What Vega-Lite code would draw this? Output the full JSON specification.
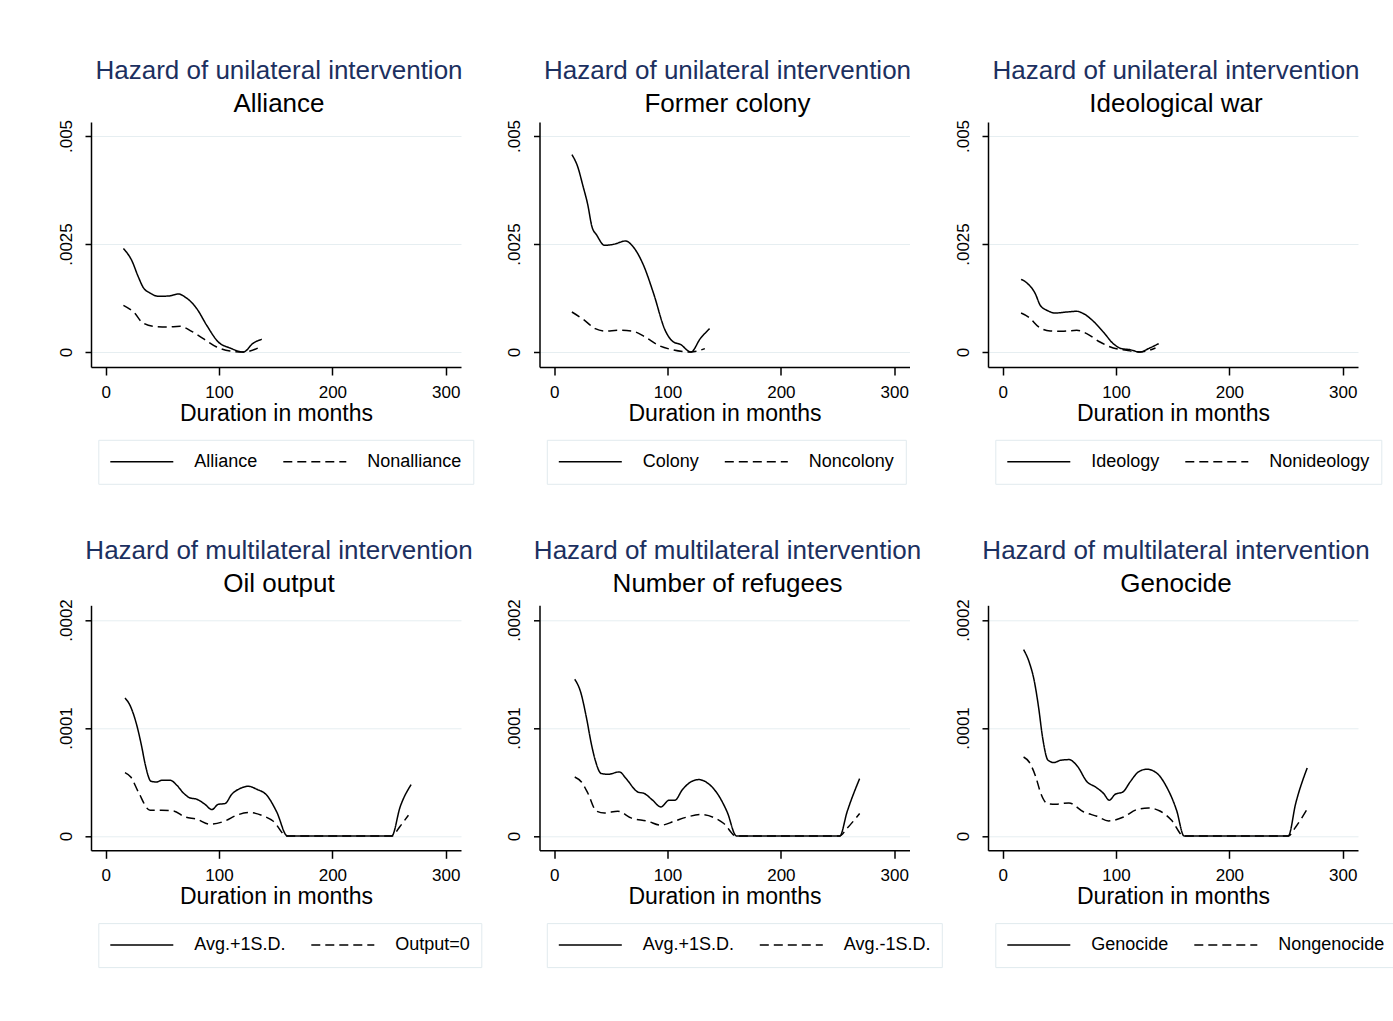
{
  "$schema": "https://vega.github.io/schema/vega-lite/v6.json",
  "background": "white",
  "padding": {"left": 57, "top": 58, "right": 5, "bottom": 5},
  "bounds": "flush",
  "columns": 3,
  "spacing": {"row": 238.3, "column": 78.5},
  "datasets": {
    "alliance": [
      {"group": "Alliance", "months": 15.6, "hazard": 0.002394},
      {"group": "Alliance", "months": 22.9, "hazard": 0.002123},
      {"group": "Alliance", "months": 28.8, "hazard": 0.001736},
      {"group": "Alliance", "months": 33.2, "hazard": 0.00149},
      {"group": "Alliance", "months": 39.1, "hazard": 0.001366},
      {"group": "Alliance", "months": 46.4, "hazard": 0.00129},
      {"group": "Alliance", "months": 55.3, "hazard": 0.001296},
      {"group": "Alliance", "months": 64.1, "hazard": 0.001343},
      {"group": "Alliance", "months": 70, "hazard": 0.001273},
      {"group": "Alliance", "months": 80.3, "hazard": 0.001005},
      {"group": "Alliance", "months": 89.1, "hazard": 0.000618},
      {"group": "Alliance", "months": 99.4, "hazard": 0.000231},
      {"group": "Alliance", "months": 109.7, "hazard": 0.0000926},
      {"group": "Alliance", "months": 121.4, "hazard": 0},
      {"group": "Alliance", "months": 130.3, "hazard": 0.000208},
      {"group": "Alliance", "months": 137.7, "hazard": 0.000294},
      {"group": "Nonalliance", "months": 15.6, "hazard": 0.001081},
      {"group": "Nonalliance", "months": 25.9, "hazard": 0.000889},
      {"group": "Nonalliance", "months": 31.8, "hazard": 0.000694},
      {"group": "Nonalliance", "months": 42, "hazard": 0.000595},
      {"group": "Nonalliance", "months": 53.8, "hazard": 0.000579},
      {"group": "Nonalliance", "months": 65.6, "hazard": 0.000595},
      {"group": "Nonalliance", "months": 75.9, "hazard": 0.000479},
      {"group": "Nonalliance", "months": 86.1, "hazard": 0.00031},
      {"group": "Nonalliance", "months": 97.9, "hazard": 0.000116},
      {"group": "Nonalliance", "months": 109.7, "hazard": 0.0000231},
      {"group": "Nonalliance", "months": 121.4, "hazard": 0},
      {"group": "Nonalliance", "months": 137.7, "hazard": 0.000132}
    ],
    "colony": [
      {"group": "Colony", "months": 15.6, "hazard": 0.004569},
      {"group": "Colony", "months": 20.8, "hazard": 0.004282},
      {"group": "Colony", "months": 25.2, "hazard": 0.003859},
      {"group": "Colony", "months": 29.7, "hazard": 0.003396},
      {"group": "Colony", "months": 33.2, "hazard": 0.00291},
      {"group": "Colony", "months": 37.6, "hazard": 0.002701},
      {"group": "Colony", "months": 44.4, "hazard": 0.00247},
      {"group": "Colony", "months": 52.4, "hazard": 0.002493},
      {"group": "Colony", "months": 63.2, "hazard": 0.00257},
      {"group": "Colony", "months": 68.5, "hazard": 0.00247},
      {"group": "Colony", "months": 78.8, "hazard": 0.002007},
      {"group": "Colony", "months": 87.7, "hazard": 0.001352},
      {"group": "Colony", "months": 97.9, "hazard": 0.000502},
      {"group": "Colony", "months": 105.3, "hazard": 0.000231},
      {"group": "Colony", "months": 111.2, "hazard": 0.000178},
      {"group": "Colony", "months": 120.6, "hazard": 0},
      {"group": "Colony", "months": 128.9, "hazard": 0.00031},
      {"group": "Colony", "months": 137.1, "hazard": 0.000541},
      {"group": "Noncolony", "months": 15.6, "hazard": 0.000926},
      {"group": "Noncolony", "months": 25.9, "hazard": 0.00075},
      {"group": "Noncolony", "months": 36.2, "hazard": 0.000541},
      {"group": "Noncolony", "months": 45, "hazard": 0.000486},
      {"group": "Noncolony", "months": 56.8, "hazard": 0.000502},
      {"group": "Noncolony", "months": 68.5, "hazard": 0.000486},
      {"group": "Noncolony", "months": 80.3, "hazard": 0.000347},
      {"group": "Noncolony", "months": 91.9, "hazard": 0.000155},
      {"group": "Noncolony", "months": 103.8, "hazard": 0.0000556},
      {"group": "Noncolony", "months": 120.6, "hazard": 0},
      {"group": "Noncolony", "months": 132.9, "hazard": 0.0000787}
    ],
    "ideology": [
      {"group": "Ideology", "months": 16.2, "hazard": 0.001683},
      {"group": "Ideology", "months": 22, "hazard": 0.001583},
      {"group": "Ideology", "months": 28.7, "hazard": 0.001352},
      {"group": "Ideology", "months": 33.1, "hazard": 0.001081},
      {"group": "Ideology", "months": 39, "hazard": 0.000965},
      {"group": "Ideology", "months": 46.3, "hazard": 0.000903},
      {"group": "Ideology", "months": 56.5, "hazard": 0.000926},
      {"group": "Ideology", "months": 65.3, "hazard": 0.000942},
      {"group": "Ideology", "months": 71.2, "hazard": 0.000889},
      {"group": "Ideology", "months": 80, "hazard": 0.000711},
      {"group": "Ideology", "months": 88.8, "hazard": 0.000463},
      {"group": "Ideology", "months": 97.5, "hazard": 0.000194},
      {"group": "Ideology", "months": 104.8, "hazard": 0.0000787},
      {"group": "Ideology", "months": 112.1, "hazard": 0.0000556},
      {"group": "Ideology", "months": 120.9, "hazard": 0},
      {"group": "Ideology", "months": 129.7, "hazard": 0.0000926},
      {"group": "Ideology", "months": 137.6, "hazard": 0.000194},
      {"group": "Nonideology", "months": 16.2, "hazard": 0.000903},
      {"group": "Nonideology", "months": 22.8, "hazard": 0.00081},
      {"group": "Nonideology", "months": 32.5, "hazard": 0.000565},
      {"group": "Nonideology", "months": 41.9, "hazard": 0.000486},
      {"group": "Nonideology", "months": 52.1, "hazard": 0.000479},
      {"group": "Nonideology", "months": 65.3, "hazard": 0.000502},
      {"group": "Nonideology", "months": 74.1, "hazard": 0.000426},
      {"group": "Nonideology", "months": 85.8, "hazard": 0.000231},
      {"group": "Nonideology", "months": 97.5, "hazard": 0.0000926},
      {"group": "Nonideology", "months": 109.2, "hazard": 0.0000394},
      {"group": "Nonideology", "months": 120.9, "hazard": 0},
      {"group": "Nonideology", "months": 134.8, "hazard": 0.0000926}
    ],
    "oil": [
      {"group": "Avg.+1S.D.", "months": 17, "hazard": 0.0001278},
      {"group": "Avg.+1S.D.", "months": 21.4, "hazard": 0.000121},
      {"group": "Avg.+1S.D.", "months": 27.4, "hazard": 0.0001025},
      {"group": "Avg.+1S.D.", "months": 31.8, "hazard": 0.0000824},
      {"group": "Avg.+1S.D.", "months": 34.7, "hazard": 0.000067},
      {"group": "Avg.+1S.D.", "months": 40, "hazard": 0.0000506},
      {"group": "Avg.+1S.D.", "months": 45, "hazard": 0.00005},
      {"group": "Avg.+1S.D.", "months": 49.4, "hazard": 0.0000516},
      {"group": "Avg.+1S.D.", "months": 56.8, "hazard": 0.0000516},
      {"group": "Avg.+1S.D.", "months": 62.7, "hazard": 0.000047},
      {"group": "Avg.+1S.D.", "months": 68.5, "hazard": 0.0000398},
      {"group": "Avg.+1S.D.", "months": 74.4, "hazard": 0.0000352},
      {"group": "Avg.+1S.D.", "months": 80.3, "hazard": 0.000034},
      {"group": "Avg.+1S.D.", "months": 87.6, "hazard": 0.0000293},
      {"group": "Avg.+1S.D.", "months": 93.6, "hazard": 0.0000244},
      {"group": "Avg.+1S.D.", "months": 99.4, "hazard": 0.0000293},
      {"group": "Avg.+1S.D.", "months": 105.3, "hazard": 0.00003},
      {"group": "Avg.+1S.D.", "months": 111.2, "hazard": 0.0000386},
      {"group": "Avg.+1S.D.", "months": 118.5, "hazard": 0.0000439},
      {"group": "Avg.+1S.D.", "months": 125.9, "hazard": 0.000046},
      {"group": "Avg.+1S.D.", "months": 133.3, "hazard": 0.0000432},
      {"group": "Avg.+1S.D.", "months": 142.1, "hazard": 0.0000377},
      {"group": "Avg.+1S.D.", "months": 150.9, "hazard": 0.0000222},
      {"group": "Avg.+1S.D.", "months": 160.3, "hazard": 0},
      {"group": "Avg.+1S.D.", "months": 252.4, "hazard": 0},
      {"group": "Avg.+1S.D.", "months": 259.8, "hazard": 0.0000269},
      {"group": "Avg.+1S.D.", "months": 269.5, "hazard": 0.0000476},
      {"group": "Output=0", "months": 17, "hazard": 0.0000587},
      {"group": "Output=0", "months": 22.1, "hazard": 0.0000546},
      {"group": "Output=0", "months": 28.8, "hazard": 0.0000407},
      {"group": "Output=0", "months": 39.1, "hazard": 0.0000238},
      {"group": "Output=0", "months": 49.4, "hazard": 0.0000238},
      {"group": "Output=0", "months": 59.7, "hazard": 0.0000231},
      {"group": "Output=0", "months": 70, "hazard": 0.0000176},
      {"group": "Output=0", "months": 80.3, "hazard": 0.0000155},
      {"group": "Output=0", "months": 92.1, "hazard": 0.0000108},
      {"group": "Output=0", "months": 105.3, "hazard": 0.0000139},
      {"group": "Output=0", "months": 115.6, "hazard": 0.0000192},
      {"group": "Output=0", "months": 127.4, "hazard": 0.0000217},
      {"group": "Output=0", "months": 139.1, "hazard": 0.0000185},
      {"group": "Output=0", "months": 147.9, "hazard": 0.0000136},
      {"group": "Output=0", "months": 159.7, "hazard": 0},
      {"group": "Output=0", "months": 252.4, "hazard": 0},
      {"group": "Output=0", "months": 259.8, "hazard": 0.000009},
      {"group": "Output=0", "months": 267.1, "hazard": 0.0000192}
    ],
    "refugees": [
      {"group": "Avg.+1S.D.", "months": 18.1, "hazard": 0.0001451},
      {"group": "Avg.+1S.D.", "months": 23.3, "hazard": 0.0001333},
      {"group": "Avg.+1S.D.", "months": 28.3, "hazard": 0.0001102},
      {"group": "Avg.+1S.D.", "months": 32.7, "hazard": 0.0000855},
      {"group": "Avg.+1S.D.", "months": 36.2, "hazard": 0.0000701},
      {"group": "Avg.+1S.D.", "months": 41.5, "hazard": 0.0000578},
      {"group": "Avg.+1S.D.", "months": 47.4, "hazard": 0.0000571},
      {"group": "Avg.+1S.D.", "months": 57.5, "hazard": 0.0000593},
      {"group": "Avg.+1S.D.", "months": 63.4, "hazard": 0.0000531},
      {"group": "Avg.+1S.D.", "months": 73.7, "hazard": 0.0000407},
      {"group": "Avg.+1S.D.", "months": 79.5, "hazard": 0.0000393},
      {"group": "Avg.+1S.D.", "months": 86.8, "hazard": 0.0000331},
      {"group": "Avg.+1S.D.", "months": 94.1, "hazard": 0.0000269},
      {"group": "Avg.+1S.D.", "months": 101.4, "hazard": 0.0000331},
      {"group": "Avg.+1S.D.", "months": 106.4, "hazard": 0.0000331},
      {"group": "Avg.+1S.D.", "months": 113.2, "hazard": 0.000043},
      {"group": "Avg.+1S.D.", "months": 120.5, "hazard": 0.00005},
      {"group": "Avg.+1S.D.", "months": 127.7, "hazard": 0.0000522},
      {"group": "Avg.+1S.D.", "months": 135.1, "hazard": 0.0000491},
      {"group": "Avg.+1S.D.", "months": 143.9, "hazard": 0.0000393},
      {"group": "Avg.+1S.D.", "months": 152.6, "hazard": 0.0000222},
      {"group": "Avg.+1S.D.", "months": 160.8, "hazard": 0},
      {"group": "Avg.+1S.D.", "months": 252, "hazard": 0},
      {"group": "Avg.+1S.D.", "months": 258.4, "hazard": 0.0000222},
      {"group": "Avg.+1S.D.", "months": 269.5, "hazard": 0.0000531},
      {"group": "Avg.-1S.D.", "months": 18.1, "hazard": 0.0000546},
      {"group": "Avg.-1S.D.", "months": 24, "hazard": 0.00005},
      {"group": "Avg.-1S.D.", "months": 29.8, "hazard": 0.0000393},
      {"group": "Avg.-1S.D.", "months": 37.1, "hazard": 0.0000231},
      {"group": "Avg.-1S.D.", "months": 44.4, "hazard": 0.0000213},
      {"group": "Avg.-1S.D.", "months": 56.1, "hazard": 0.0000229},
      {"group": "Avg.-1S.D.", "months": 67.8, "hazard": 0.0000167},
      {"group": "Avg.-1S.D.", "months": 82.5, "hazard": 0.0000136},
      {"group": "Avg.-1S.D.", "months": 94.1, "hazard": 0.0000099},
      {"group": "Avg.-1S.D.", "months": 105.8, "hazard": 0.0000136},
      {"group": "Avg.-1S.D.", "months": 117.5, "hazard": 0.0000176},
      {"group": "Avg.-1S.D.", "months": 129.2, "hazard": 0.0000198},
      {"group": "Avg.-1S.D.", "months": 140.9, "hazard": 0.000017},
      {"group": "Avg.-1S.D.", "months": 149.7, "hazard": 0.0000115},
      {"group": "Avg.-1S.D.", "months": 160.5, "hazard": 0},
      {"group": "Avg.-1S.D.", "months": 252, "hazard": 0},
      {"group": "Avg.-1S.D.", "months": 257.7, "hazard": 0.0000062},
      {"group": "Avg.-1S.D.", "months": 269.5, "hazard": 0.0000207}
    ],
    "genocide": [
      {"group": "Genocide", "months": 18.4, "hazard": 0.0001726},
      {"group": "Genocide", "months": 23.3, "hazard": 0.0001611},
      {"group": "Genocide", "months": 27.7, "hazard": 0.0001442},
      {"group": "Genocide", "months": 31.6, "hazard": 0.0001194},
      {"group": "Genocide", "months": 35.1, "hazard": 0.0000917},
      {"group": "Genocide", "months": 40, "hazard": 0.0000701},
      {"group": "Genocide", "months": 45.2, "hazard": 0.000068},
      {"group": "Genocide", "months": 51.1, "hazard": 0.0000701},
      {"group": "Genocide", "months": 58.4, "hazard": 0.0000707},
      {"group": "Genocide", "months": 65.7, "hazard": 0.0000648},
      {"group": "Genocide", "months": 74.5, "hazard": 0.00005},
      {"group": "Genocide", "months": 81.8, "hazard": 0.0000454},
      {"group": "Genocide", "months": 89, "hazard": 0.0000393},
      {"group": "Genocide", "months": 94, "hazard": 0.0000331},
      {"group": "Genocide", "months": 99.3, "hazard": 0.0000386},
      {"group": "Genocide", "months": 106, "hazard": 0.0000407},
      {"group": "Genocide", "months": 112.4, "hazard": 0.00005},
      {"group": "Genocide", "months": 119.7, "hazard": 0.0000593},
      {"group": "Genocide", "months": 127.1, "hazard": 0.0000618},
      {"group": "Genocide", "months": 135.8, "hazard": 0.0000583},
      {"group": "Genocide", "months": 144.6, "hazard": 0.0000454},
      {"group": "Genocide", "months": 153.4, "hazard": 0.0000238},
      {"group": "Genocide", "months": 160, "hazard": 0},
      {"group": "Genocide", "months": 252, "hazard": 0},
      {"group": "Genocide", "months": 258.5, "hazard": 0.00003},
      {"group": "Genocide", "months": 268.7, "hazard": 0.000063},
      {"group": "Nongenocide", "months": 18.4, "hazard": 0.0000731},
      {"group": "Nongenocide", "months": 23.3, "hazard": 0.0000685},
      {"group": "Nongenocide", "months": 29.2, "hazard": 0.0000546},
      {"group": "Nongenocide", "months": 33.6, "hazard": 0.0000393},
      {"group": "Nongenocide", "months": 39.4, "hazard": 0.00003},
      {"group": "Nongenocide", "months": 46.7, "hazard": 0.0000293},
      {"group": "Nongenocide", "months": 58.4, "hazard": 0.0000306},
      {"group": "Nongenocide", "months": 71.5, "hazard": 0.0000222},
      {"group": "Nongenocide", "months": 83.2, "hazard": 0.0000182},
      {"group": "Nongenocide", "months": 93.4, "hazard": 0.0000139},
      {"group": "Nongenocide", "months": 106.6, "hazard": 0.0000176},
      {"group": "Nongenocide", "months": 118.3, "hazard": 0.0000244},
      {"group": "Nongenocide", "months": 128.5, "hazard": 0.0000259},
      {"group": "Nongenocide", "months": 138.7, "hazard": 0.0000231},
      {"group": "Nongenocide", "months": 149, "hazard": 0.0000145},
      {"group": "Nongenocide", "months": 159.7, "hazard": 0},
      {"group": "Nongenocide", "months": 252, "hazard": 0},
      {"group": "Nongenocide", "months": 258.5, "hazard": 0.0000083},
      {"group": "Nongenocide", "months": 269.8, "hazard": 0.0000269}
    ]
  },
  "concat": [
    {
      "title": {"text": "Hazard of unilateral intervention", "subtitle": "Alliance"},
      "data": {"name": "alliance"},
      "width": 370, "height": 245,
      "mark": {"type": "line", "interpolate": "monotone", "color": "black", "strokeWidth": 1.5},
      "encoding": {
        "x": {"field": "months", "type": "quantitative", "title": "Duration in months", "scale": {"domain": [-13, 313.5], "nice": false, "zero": false}, "axis": {"values": [0, 100, 200, 300]}},
        "y": {"field": "hazard", "type": "quantitative", "title": null, "scale": {"domain": [-0.000347, 0.005324], "nice": false, "zero": false}, "axis": {"values": [0, 0.0025, 0.005]}},
        "strokeDash": {"field": "group", "type": "nominal", "scale": {"domain": ["Alliance", "Nonalliance"], "range": [[1, 0], [9, 5]]}, "legend": {"title": null, "legendX": 7.3, "legendY": 317.8}}
      }
    },
    {
      "title": {"text": "Hazard of unilateral intervention", "subtitle": "Former colony"},
      "data": {"name": "colony"},
      "width": 370, "height": 245,
      "mark": {"type": "line", "interpolate": "monotone", "color": "black", "strokeWidth": 1.5},
      "encoding": {
        "x": {"field": "months", "type": "quantitative", "title": "Duration in months", "scale": {"domain": [-13, 313.5], "nice": false, "zero": false}, "axis": {"values": [0, 100, 200, 300]}},
        "y": {"field": "hazard", "type": "quantitative", "title": null, "scale": {"domain": [-0.000347, 0.005324], "nice": false, "zero": false}, "axis": {"values": [0, 0.0025, 0.005]}},
        "strokeDash": {"field": "group", "type": "nominal", "scale": {"domain": ["Colony", "Noncolony"], "range": [[1, 0], [9, 5]]}, "legend": {"title": null, "legendX": 7.3, "legendY": 317.8}}
      }
    },
    {
      "title": {"text": "Hazard of unilateral intervention", "subtitle": "Ideological war"},
      "data": {"name": "ideology"},
      "width": 370, "height": 245,
      "mark": {"type": "line", "interpolate": "monotone", "color": "black", "strokeWidth": 1.5},
      "encoding": {
        "x": {"field": "months", "type": "quantitative", "title": "Duration in months", "scale": {"domain": [-13, 313.5], "nice": false, "zero": false}, "axis": {"values": [0, 100, 200, 300]}},
        "y": {"field": "hazard", "type": "quantitative", "title": null, "scale": {"domain": [-0.000347, 0.005324], "nice": false, "zero": false}, "axis": {"values": [0, 0.0025, 0.005]}},
        "strokeDash": {"field": "group", "type": "nominal", "scale": {"domain": ["Ideology", "Nonideology"], "range": [[1, 0], [9, 5]]}, "legend": {"title": null, "legendX": 7.3, "legendY": 317.8}}
      }
    },
    {
      "title": {"text": "Hazard of multilateral intervention", "subtitle": "Oil output"},
      "data": {"name": "oil"},
      "width": 370, "height": 245,
      "mark": {"type": "line", "interpolate": "monotone", "color": "black", "strokeWidth": 1.5},
      "encoding": {
        "x": {"field": "months", "type": "quantitative", "title": "Duration in months", "scale": {"domain": [-13, 313.5], "nice": false, "zero": false}, "axis": {"values": [0, 100, 200, 300]}},
        "y": {"field": "hazard", "type": "quantitative", "title": null, "scale": {"domain": [-0.0000133, 0.0002136], "nice": false, "zero": false}, "axis": {"values": [0, 0.0001, 0.0002]}},
        "strokeDash": {"field": "group", "type": "nominal", "scale": {"domain": ["Avg.+1S.D.", "Output=0"], "range": [[1, 0], [9, 5]]}, "legend": {"title": null, "legendX": 7.3, "legendY": 317.8}}
      }
    },
    {
      "title": {"text": "Hazard of multilateral intervention", "subtitle": "Number of refugees"},
      "data": {"name": "refugees"},
      "width": 370, "height": 245,
      "mark": {"type": "line", "interpolate": "monotone", "color": "black", "strokeWidth": 1.5},
      "encoding": {
        "x": {"field": "months", "type": "quantitative", "title": "Duration in months", "scale": {"domain": [-13, 313.5], "nice": false, "zero": false}, "axis": {"values": [0, 100, 200, 300]}},
        "y": {"field": "hazard", "type": "quantitative", "title": null, "scale": {"domain": [-0.0000133, 0.0002136], "nice": false, "zero": false}, "axis": {"values": [0, 0.0001, 0.0002]}},
        "strokeDash": {"field": "group", "type": "nominal", "scale": {"domain": ["Avg.+1S.D.", "Avg.-1S.D."], "range": [[1, 0], [9, 5]]}, "legend": {"title": null, "legendX": 7.3, "legendY": 317.8}}
      }
    },
    {
      "title": {"text": "Hazard of multilateral intervention", "subtitle": "Genocide"},
      "data": {"name": "genocide"},
      "width": 370, "height": 245,
      "mark": {"type": "line", "interpolate": "monotone", "color": "black", "strokeWidth": 1.5},
      "encoding": {
        "x": {"field": "months", "type": "quantitative", "title": "Duration in months", "scale": {"domain": [-13, 313.5], "nice": false, "zero": false}, "axis": {"values": [0, 100, 200, 300]}},
        "y": {"field": "hazard", "type": "quantitative", "title": null, "scale": {"domain": [-0.0000133, 0.0002136], "nice": false, "zero": false}, "axis": {"values": [0, 0.0001, 0.0002]}},
        "strokeDash": {"field": "group", "type": "nominal", "scale": {"domain": ["Genocide", "Nongenocide"], "range": [[1, 0], [9, 5]]}, "legend": {"title": null, "legendX": 7.3, "legendY": 317.8}}
      }
    }
  ],
  "resolve": {
    "scale": {"x": "independent", "y": "independent", "strokeDash": "independent"},
    "axis": {"x": "independent", "y": "independent"},
    "legend": {"strokeDash": "independent"}
  },
  "config": {
    "font": "Liberation Sans",
    "view": {"stroke": null},
    "axis": {
      "domainColor": "black", "domainWidth": 1.5,
      "tickColor": "black", "tickWidth": 1.5,
      "labelColor": "black", "labelFontSize": 17, "labelFlush": false,
      "titleColor": "black", "titleFontSize": 23, "titleFontWeight": "normal"
    },
    "axisX": {"grid": false, "tickSize": 8, "labelPadding": 9, "titlePadding": 2},
    "axisY": {
      "grid": true, "gridColor": "#e6eef1", "gridWidth": 1,
      "tickSize": 6, "labelAngle": -90, "labelPadding": 10,
      "labelExpr": "datum.value === 0 ? '0' : replace(toString(datum.value), /^0/, '')"
    },
    "title": {
      "fontSize": 26, "fontWeight": "normal", "color": "#1c3060",
      "subtitleFontSize": 26, "subtitleColor": "black", "subtitleFont": "Liberation Sans",
      "anchor": "middle", "frame": "group", "subtitlePadding": 7, "offset": 2, "dx": 3
    },
    "legend": {
      "orient": "none", "direction": "horizontal",
      "symbolType": "stroke", "symbolSize": 3969, "symbolStrokeWidth": 1.5, "symbolStrokeColor": "black",
      "labelFontSize": 18, "labelColor": "black", "labelOffset": 20, "labelLimit": 300,
      "columnPadding": 24, "padding": 11, "clipHeight": 22,
      "strokeColor": "#e1eaee"
    }
  }
}
